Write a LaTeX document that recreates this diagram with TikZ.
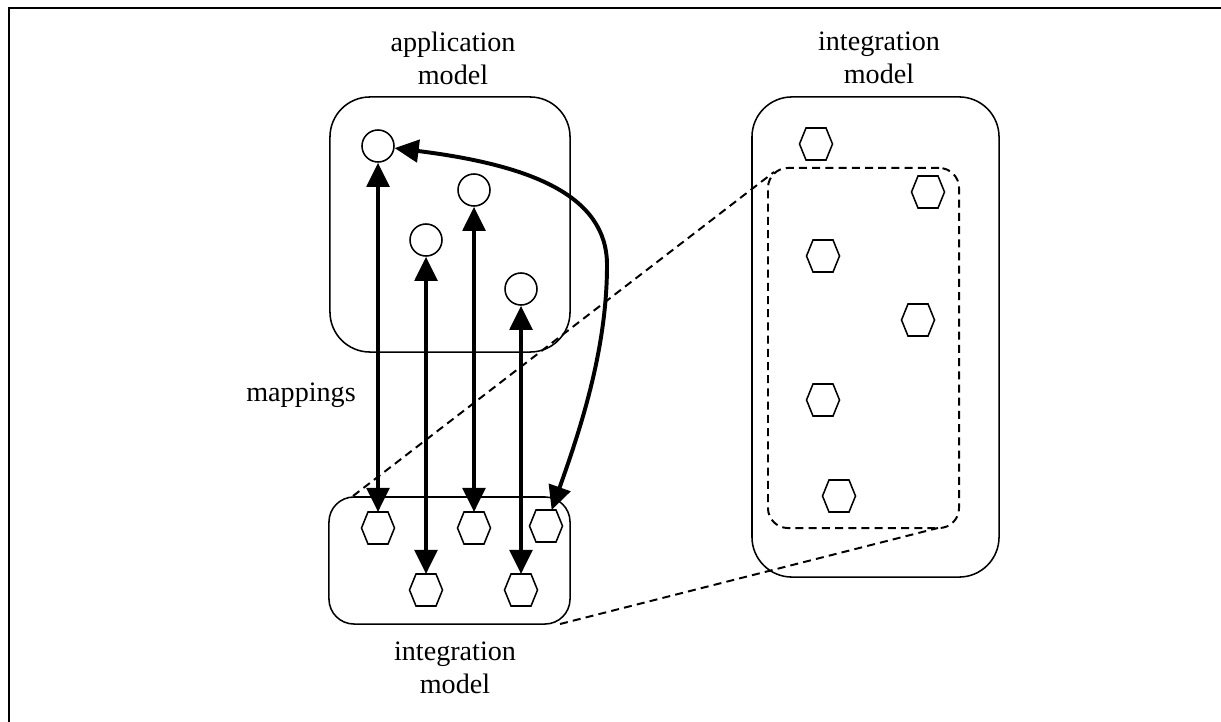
\documentclass[tikz,border=0pt]{standalone}
\usepackage{fontspec}
\setmainfont{Liberation Serif}
\usetikzlibrary{arrows.meta}
\tikzset{
  elem/.style={circle, draw, line width=1.1pt, minimum size=0.8cm, inner sep=0pt},
  hexa/.style={rectangle, minimum width=0.825cm, minimum height=0.8cm, inner sep=0pt, outer sep=0pt},
  modelbox/.style={draw, line width=1.1pt, inner sep=0pt},
  lbl/.style={align=center, font=\fontsize{20}{23.5}\selectfont},
  map/.style={<->, line width=2.8pt},
  proj/.style={line width=1.4pt, dash pattern=on 0.2cm off 0.13cm},
}
% hexagon outline round a hexa node
\newcommand{\hexline}[1]{%
  \draw[line width=1.1pt] (#1.west) -- ([xshift=0.1625cm]#1.north west) -- ([xshift=-0.1625cm]#1.north east)
    -- (#1.east) -- ([xshift=-0.1625cm]#1.south east) -- ([xshift=0.1625cm]#1.south west) -- cycle;}
\begin{document}
\begin{tikzpicture}[>={Triangle[length=6mm,width=5.6mm]}, x=0.025cm, y=-0.025cm]
\useasboundingbox (0,0) rectangle (1221,722);
\draw[line width=1.8pt] (9,722)--(9,8)--(1221,8);

% the three models
\node[modelbox, rounded corners=1cm, minimum width=6cm, minimum height=6.375cm] (appbox) at (450,224.5) {};
\node[modelbox, rounded corners=0.625cm, minimum width=6.025cm, minimum height=3.175cm] (intbox) at (449.5,560.5) {};
\node[modelbox, rounded corners=1cm, minimum width=6.175cm, minimum height=12cm] (fullbox) at (875.5,337) {};
\node[modelbox, proj, rounded corners=0.5cm, minimum width=4.775cm, minimum height=9cm] (subbox) at (863.5,348) {};

\node[lbl] (applbl) at (453,58) {application\\model};
\node[lbl] (fulllbl) at (879,58) {integration\\model};
\node[lbl] (intlbl) at (455,668) {integration\\model};
\node[lbl] (maplbl) at (301,395) {mappings};

% elements
\foreach \n/\x/\y in {c1/378/146, c2/474/190, c3/426/240, c4/521/289}
  \node[elem] (\n) at (\x,\y) {};
\foreach \n/\x/\y in {h1/378/528, h2/474/528, h3/546/526, h4/426/590, h5/521/590,
                      r1/816/144, r2/928/192, r3/823/256, r4/918/320, r5/823/400, r6/839/496}
{
  \node[hexa] (\n) at (\x,\y) {};
  \hexline{\n}
}

% mappings
\foreach \a/\b in {c1/h1, c2/h2, c3/h4, c4/h5}
  \draw[map] (\a) -- (\b);
\draw[map] (c1) .. controls (530,165) and (607,195) .. (607,265) .. controls (607,350) and (580,430) .. (h3);

% projection of the small model
\coordinate (p1) at (353,496);
\coordinate (p2) at (774,172);
\coordinate (p3) at (560,624);
\coordinate (p4) at (938,528);
\draw[proj] (p1) -- (p2);
\draw[proj] (p3) -- (p4);
\end{tikzpicture}
\end{document}
